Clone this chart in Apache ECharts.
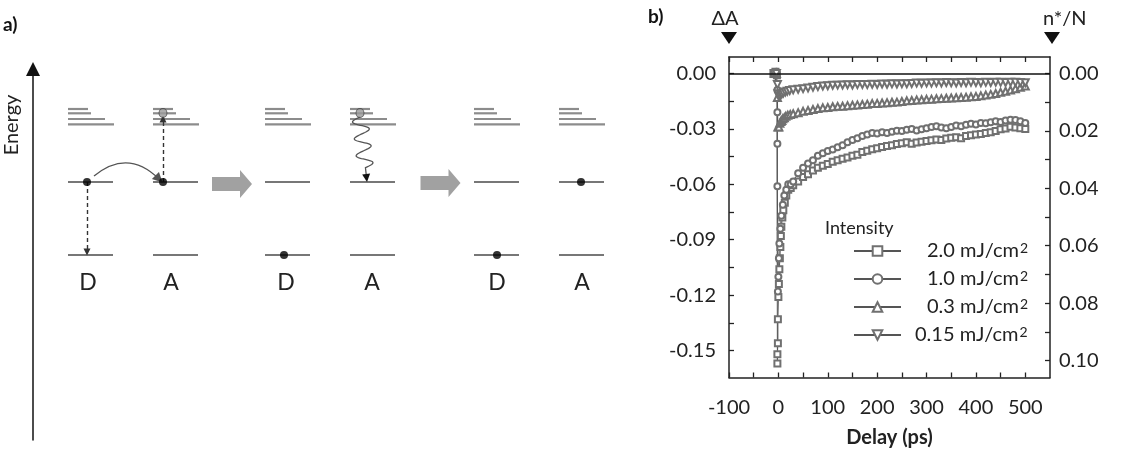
<!DOCTYPE html>
<html><head><meta charset="utf-8">
<script src="https://cdn.jsdelivr.net/npm/echarts@6/dist/echarts.min.js"></script>
<style>html,body{margin:0;padding:0;background:#fff;}#c{width:1137px;height:458px;}</style>
</head><body><div id="c"></div>
<script>
// ================= panel b) data =================
const xTickLabels = [-100, 0, 100, 200, 300, 400, 500];
const xTicks = [-100, -50, 0, 50, 100, 150, 200, 250, 300, 350, 400, 450, 500];
const dATickLabels = [0, -0.03, -0.06, -0.09, -0.12, -0.15];
const dATicks = [0, -0.015, -0.03, -0.045, -0.06, -0.075, -0.09, -0.105, -0.12, -0.135, -0.15];
const nTickLabels = [0, 0.02, 0.04, 0.06, 0.08, 0.10];
const nTicks = [0, 0.01, 0.02, 0.03, 0.04, 0.05, 0.06, 0.07, 0.08, 0.09, 0.10];
const seriesNames = ['2.0 mJ/cm2', '1.0 mJ/cm2', '0.3 mJ/cm2', '0.15 mJ/cm2'];

// early points (delay ps, ΔA) around time zero
const early20 = [[-10,0.000],[-6,0.001],[-3,-0.001],[-2,-0.157],[-2,-0.152],[-1,-0.146],[-1,-0.133],[0,-0.121],[1,-0.114],[2,-0.106],[3,-0.100],[4,-0.094],[5,-0.088],[6,-0.083],[8,-0.078],[10,-0.074],[13,-0.070],[16,-0.066],[20,-0.063],[25,-0.062]];
const early10 = [[-8,0.000],[-4,0.001],[-2,-0.009],[-2,-0.021],[-2,-0.038],[-2,-0.061],[-1,-0.118],[0,-0.110],[1,-0.100],[2,-0.092],[4,-0.084],[6,-0.077],[9,-0.071],[12,-0.066],[16,-0.063],[20,-0.060],[25,-0.060]];
const early03 = [[-8,0.000],[-4,0.000],[-2,-0.013],[-1,-0.029],[1,-0.029],[3,-0.027],[5,-0.026],[7,-0.0255],[9,-0.0245],[12,-0.024],[15,-0.0232],[19,-0.0226],[24,-0.0222]];
const early015 = [[-8,0.000],[-4,0.000],[-2,-0.006],[-1,-0.011],[1,-0.0125],[3,-0.0120],[5,-0.0114],[7,-0.0110],[10,-0.0106],[14,-0.0100],[18,-0.0096],[23,-0.0092]];

// recovery part, common delays
const delays = [30,40,50,60,70,80,90,100,110,120,130,140,150,160,170,180,190,200,210,220,230,240,250,260,270,280,290,300,310,320,330,340,350,360,370,380,390,400,410,420,430,440,450,460,470,480,490,500];
const late20 = [-0.0605,-0.0585,-0.0560,-0.0545,-0.0525,-0.0510,-0.0500,-0.0490,-0.0478,-0.0470,-0.0462,-0.0455,-0.0446,-0.0440,-0.0425,-0.0418,-0.0410,-0.0405,-0.0398,-0.0392,-0.0388,-0.0382,-0.0378,-0.0372,-0.0380,-0.0374,-0.0370,-0.0366,-0.0362,-0.0358,-0.0360,-0.0352,-0.0348,-0.0345,-0.0350,-0.0338,-0.0335,-0.0330,-0.0328,-0.0322,-0.0318,-0.0312,-0.0302,-0.0298,-0.0288,-0.0292,-0.0296,-0.0300];
const late10 = [-0.0585,-0.0540,-0.0510,-0.0488,-0.0470,-0.0445,-0.0432,-0.0420,-0.0412,-0.0400,-0.0388,-0.0372,-0.0360,-0.0350,-0.0338,-0.0330,-0.0322,-0.0325,-0.0318,-0.0322,-0.0315,-0.0310,-0.0312,-0.0305,-0.0300,-0.0308,-0.0302,-0.0296,-0.0290,-0.0286,-0.0292,-0.0296,-0.0290,-0.0282,-0.0285,-0.0278,-0.0272,-0.0276,-0.0268,-0.0270,-0.0264,-0.0258,-0.0262,-0.0255,-0.0250,-0.0252,-0.0258,-0.0268];
const late03 = [-0.0218,-0.0212,-0.0205,-0.0200,-0.0195,-0.0190,-0.0186,-0.0184,-0.0180,-0.0178,-0.0177,-0.0174,-0.0172,-0.0170,-0.0168,-0.0166,-0.0163,-0.0162,-0.0160,-0.0158,-0.0156,-0.0155,-0.0152,-0.0148,-0.0146,-0.0143,-0.0142,-0.0140,-0.0139,-0.0137,-0.0136,-0.0134,-0.0133,-0.0131,-0.0130,-0.0128,-0.0126,-0.0124,-0.0121,-0.0117,-0.0113,-0.0108,-0.0102,-0.0096,-0.0089,-0.0082,-0.0075,-0.0068];
const late015 = [-0.0088,-0.0085,-0.0082,-0.0078,-0.0074,-0.0071,-0.0068,-0.0066,-0.0064,-0.0063,-0.0062,-0.0061,-0.0062,-0.0060,-0.0059,-0.0060,-0.0058,-0.0059,-0.0057,-0.0058,-0.0056,-0.0057,-0.0055,-0.0056,-0.0054,-0.0052,-0.0053,-0.0051,-0.0052,-0.0050,-0.0051,-0.0049,-0.0050,-0.0051,-0.0049,-0.0050,-0.0048,-0.0049,-0.0050,-0.0048,-0.0049,-0.0047,-0.0048,-0.0049,-0.0047,-0.0048,-0.0049,-0.0050];

// ================= panel a) schematic data =================
const diagramLabels = ['D', 'A', 'D', 'A', 'D', 'A'];
const E_ground = 0, E_excited = 73;              // level energies (arb. units)
const E_band = [146, 141.7, 136, 130.7];          // band manifold lines
const electrons = [[54, 73], [130, 73], [251, 0], [464, 0], [548, 73]];
const holes = [[130, 142], [327, 142]];

// ---------- layout (not data) ----------
const colLeft = [35, 120, 232, 317, 441, 526];
const levelW = 45;
const bandLen = [20, 23, 37, 46];
const labelX = [55, 138, 253, 339, 464, 549];
const FONT = 'Lato, "Open Sans", sans-serif';

const levelItems = [];
colLeft.forEach(x0 => {
  E_band.forEach((e, i) => levelItems.push([x0, x0 + bandLen[i], e, 0]));
  levelItems.push([x0, x0 + levelW, E_excited, 1]);
  levelItems.push([x0, x0 + levelW, E_ground, 1]);
});
const zip = (ts, vs) => ts.map((t, i) => [t, vs[i]]);

const chart = echarts.init(document.getElementById('c'), null, {renderer: 'canvas'});
const axisCol = '#222';
const mk = (name, early, late, symbol, rot, size) => ({
  type: 'line', name, xAxisIndex: 0, yAxisIndex: 0,
  data: early.concat(zip(delays, late)),
  symbol, symbolSize: size, symbolRotate: rot,
  lineStyle: {color: '#555', width: 1},
  itemStyle: {color: '#707070', borderColor: '#707070', borderWidth: 1},
  emphasis: {disabled: true}, z: 3
});

const option = {
  animation: false,
  backgroundColor: '#fff',
  grid: [
    {left: 729, right: 87, top: 57, bottom: 80.5},
    {left: 33, top: 69, width: 590, height: 371}
  ],
  xAxis: [
    {type: 'value', gridIndex: 0, min: -100, max: 550, position: 'bottom',
     axisLine: {onZero: false, lineStyle: {color: axisCol, width: 1.5}},
     axisTick: {inside: true, length: 5, customValues: xTicks, lineStyle: {color: axisCol, width: 1.3}},
     axisLabel: {customValues: xTickLabels, margin: 20, fontSize: 20, color: '#222', fontFamily: FONT},
     splitLine: {show: false},
     name: 'Delay (ps)', nameLocation: 'middle', nameGap: 50,
     nameTextStyle: {fontSize: 20, fontWeight: 'bold', color: '#222', fontFamily: FONT}},
    {type: 'value', gridIndex: 0, min: -100, max: 550, position: 'top',
     axisLine: {onZero: false, lineStyle: {color: axisCol, width: 1.5}},
     axisTick: {inside: true, length: 5, customValues: xTicks, lineStyle: {color: axisCol, width: 1.3}},
     axisLabel: {show: false}, splitLine: {show: false}},
    {type: 'value', gridIndex: 1, min: 0, max: 590, show: false}
  ],
  yAxis: [
    {type: 'value', gridIndex: 0, min: -0.1646, max: 0.00893, position: 'left',
     axisLine: {show: true, onZero: false, lineStyle: {color: axisCol, width: 1.5}},
     axisTick: {show: true, inside: true, length: 5, customValues: dATicks, lineStyle: {color: axisCol, width: 1.3}},
     axisLabel: {customValues: dATickLabels, margin: 13, fontSize: 20, color: '#222', fontFamily: FONT,
                 formatter: v => v.toFixed(2)},
     splitLine: {show: false}},
    {type: 'value', gridIndex: 0, min: -0.00575, max: 0.1059, inverse: true, position: 'right',
     axisLine: {show: true, onZero: false, lineStyle: {color: axisCol, width: 1.5}},
     axisTick: {show: true, inside: true, length: 5, customValues: nTicks, lineStyle: {color: axisCol, width: 1.3}},
     axisLabel: {customValues: nTickLabels, margin: 9, fontSize: 20, color: '#222', fontFamily: FONT,
                 formatter: v => v.toFixed(2)},
     splitLine: {show: false}},
    {type: 'value', gridIndex: 1, min: -185, max: 186,
     axisLine: {show: true, onZero: false, symbol: ['none', 'triangle'], symbolSize: [14, 14], lineStyle: {color: '#111', width: 1.5}},
     axisTick: {show: false}, axisLabel: {show: false}, splitLine: {show: false}}
  ],
  legend: {
    orient: 'vertical', left: 848, top: 236, itemWidth: 47, itemHeight: 12, itemGap: 7.5,
    selectedMode: false, data: seriesNames,
    formatter: n => {
      const m = n.match(/^(\S+) (mJ\/cm)2$/);
      const sp = m[1].length < 4 ? '{w|}' : '{v|}';
      return sp + '{n|' + m[1] + '}{u| ' + m[2] + '}{s|2}';
    },
    textStyle: {color: '#222', fontSize: 20, fontFamily: FONT,
      rich: {
        v: {width: 9, lineHeight: 19},
        w: {width: 21, lineHeight: 19},
        n: {fontSize: 20, lineHeight: 19, color: '#222', fontFamily: FONT},
        u: {fontSize: 20, lineHeight: 19, color: '#222', fontFamily: FONT},
        s: {fontSize: 14, lineHeight: 19, verticalAlign: 'top', color: '#222', fontFamily: FONT, padding: [0, 0, 6, 1]}
      }}
  },
  graphic: [
    {type: 'text', x: 3, y: 25, style: {text: 'a)', fontSize: 19, fontWeight: 'bold', fontFamily: FONT, fill: '#111', verticalAlign: 'middle'}},
    {type: 'text', x: 648, y: 17, style: {text: 'b)', fontSize: 19, fontWeight: 'bold', fontFamily: FONT, fill: '#111', verticalAlign: 'middle'}},
    {type: 'text', x: 12, y: 125, rotation: Math.PI / 2, style: {text: 'Energy', fontSize: 20, fontFamily: FONT, fill: '#222', align: 'center', verticalAlign: 'middle'}},
    {type: 'text', x: 725, y: 19, style: {text: 'ΔA', fontSize: 20, fontFamily: FONT, fill: '#222', align: 'center', verticalAlign: 'middle'}},
    {type: 'text', x: 1043, y: 19, style: {text: 'n*/N', fontSize: 20, fontFamily: FONT, fill: '#222', align: 'left', verticalAlign: 'middle'}},
    {type: 'polygon', shape: {points: [[721, 32], [737, 32], [729, 44]]}, style: {fill: '#111'}},
    {type: 'polygon', shape: {points: [[1044, 32], [1060, 32], [1052, 44]]}, style: {fill: '#111'}},
    {type: 'text', x: 825, y: 228, style: {text: 'Intensity', fontSize: 18, fontFamily: FONT, fill: '#222', align: 'left', verticalAlign: 'middle'}}
  ],
  series: [
    Object.assign(mk(seriesNames[0], early20, late20, 'emptyRect', 0, 6), {
      markLine: {silent: true, symbol: ['none', 'none'], label: {show: false},
        lineStyle: {color: '#111', type: 'solid', width: 1.5}, data: [{yAxis: 0}]}
    }),
    mk(seriesNames[1], early10, late10, 'emptyCircle', 0, 6),
    mk(seriesNames[2], early03, late03, 'emptyTriangle', 0, 7),
    mk(seriesNames[3], early015, late015, 'emptyTriangle', 180, 7),

    // ---- panel a) schematic ----
    {type: 'custom', xAxisIndex: 2, yAxisIndex: 2, silent: true, data: levelItems,
     encode: {x: [0, 1], y: 2},
     renderItem: (p, api) => {
       const a = api.coord([api.value(0), api.value(2)]);
       const b = api.coord([api.value(1), api.value(2)]);
       const t = api.value(3);
       return {type: 'line', shape: {x1: a[0], y1: a[1], x2: b[0], y2: b[1]},
               style: {stroke: t ? '#4a4a4a' : '#8c8c8c', lineWidth: t ? 1.6 : 2.2}};
     }},
    {type: 'lines', coordinateSystem: 'cartesian2d', xAxisIndex: 2, yAxisIndex: 2, silent: true,
     symbol: ['none', 'triangle'], symbolSize: 7,
     lineStyle: {color: '#333', width: 1.4, type: [4, 3], opacity: 1},
     data: [{coords: [[54, 73], [54, 3]]}, {coords: [[130, 73], [130, 136]]}]},
    {type: 'lines', coordinateSystem: 'cartesian2d', xAxisIndex: 2, yAxisIndex: 2, silent: true,
     symbol: ['none', 'triangle'], symbolSize: 10,
     lineStyle: {color: '#555', width: 1.3, curveness: 0.45, opacity: 1},
     data: [{coords: [[61, 79], [126, 76]]}]},
    {type: 'custom', xAxisIndex: 2, yAxisIndex: 2, silent: true, data: [[327, 138, 334, 73]],
     encode: {x: [0, 2], y: [1, 3]},
     renderItem: (p, api) => {
       const a = api.coord([api.value(0), api.value(1)]);
       const b = api.coord([api.value(2), api.value(3)]);
       const dx = b[0] - a[0], dy = b[1] - a[1], L = Math.hypot(dx, dy);
       const ux = dx / L, uy = dy / L, nx = -uy, ny = ux;
       const wl = L * 0.78, head = 8, pts = [];
       for (let i = 0; i <= 80; i++) {
         const s = i / 80 * wl, off = 8 * Math.sin(s / wl * Math.PI * 2 * 3);
         pts.push([a[0] + ux * s + nx * off, a[1] + uy * s + ny * off]);
       }
       pts.push([b[0] - ux * head, b[1] - uy * head]);
       return {type: 'group', children: [
         {type: 'polyline', shape: {points: pts}, style: {stroke: '#555', fill: null, lineWidth: 1.3}},
         {type: 'polygon', shape: {points: [[b[0], b[1]], [b[0] - ux * head + nx * 4, b[1] - uy * head + ny * 4], [b[0] - ux * head - nx * 4, b[1] - uy * head - ny * 4]]},
          style: {fill: '#111'}}]};
     }},
    {type: 'scatter', xAxisIndex: 2, yAxisIndex: 2, silent: true, data: electrons,
     symbol: 'circle', symbolSize: 8, itemStyle: {color: '#000'}, z: 5},
    {type: 'scatter', xAxisIndex: 2, yAxisIndex: 2, silent: true, data: holes,
     symbol: 'circle', symbolSize: [8, 9], itemStyle: {color: '#9a9a9a', borderColor: '#444', borderWidth: 1}, z: 5},
    {type: 'scatter', xAxisIndex: 2, yAxisIndex: 2, silent: true, data: [[199, 71], [407.5, 72]],
     symbol: 'path://M0,7L28,7L28,0L40,14L28,28L28,21L0,21Z', symbolSize: [40, 28], itemStyle: {color: '#8a8a8a'}},
    {type: 'custom', xAxisIndex: 2, yAxisIndex: 2, silent: true,
     data: labelX.map((x, i) => [x, -28, i]),
     renderItem: (p, api) => {
       const c = api.coord([api.value(0), api.value(1)]);
       return {type: 'text', x: c[0], y: c[1], style: {text: diagramLabels[api.value(2)], fontSize: 23, fontFamily: FONT, fill: '#222', align: 'center', verticalAlign: 'middle'}};
     }}
  ]
};
chart.setOption(option);
</script></body></html>
